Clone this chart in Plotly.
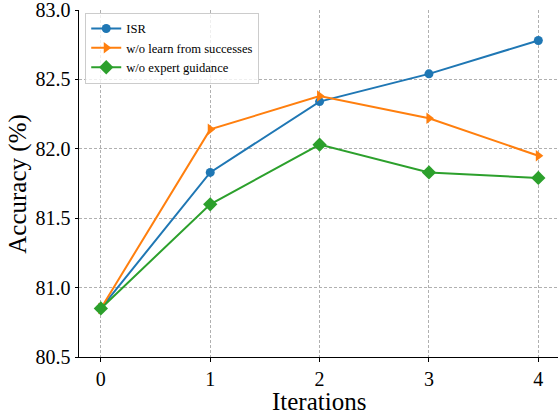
import plotly.graph_objects as go

iterations = [0, 1, 2, 3, 4]
isr = [80.85, 81.83, 82.34, 82.54, 82.78]
wo_learn = [80.85, 82.14, 82.38, 82.22, 81.95]
wo_expert = [80.85, 81.60, 82.03, 81.83, 81.79]
y_ticks = [80.5, 81.0, 81.5, 82.0, 82.5, 83.0]

FONT = "'Liberation Serif', 'Times New Roman', serif"

fig = go.Figure()
fig.add_trace(go.Scatter(x=iterations, y=isr, mode="lines+markers", name="ISR",
                         line=dict(color="#1f77b4", width=2),
                         marker=dict(symbol="circle", size=9, color="#1f77b4")))
fig.add_trace(go.Scatter(x=iterations, y=wo_learn, mode="lines+markers", name="w/o learn from successes",
                         line=dict(color="#ff7f0e", width=2),
                         marker=dict(symbol="triangle-right", size=10, color="#ff7f0e")))
fig.add_trace(go.Scatter(x=iterations, y=wo_expert, mode="lines+markers", name="w/o expert guidance",
                         line=dict(color="#2ca02c", width=2),
                         marker=dict(symbol="diamond", size=11, color="#2ca02c")))

fig.update_layout(
    width=559, height=414,
    margin=dict(l=79, r=1, t=10, b=57),
    paper_bgcolor="white", plot_bgcolor="white",
    font=dict(family=FONT, color="black"),
    showlegend=True,
    legend=dict(x=0.013, y=0.992, xanchor="left", yanchor="top",
                bgcolor="rgba(255,255,255,0.8)", bordercolor="#cccccc", borderwidth=1,
                font=dict(family=FONT, size=12.6, color="black"),
                tracegroupgap=0, itemwidth=30),
    xaxis=dict(range=[-0.2, 4.18], tickvals=iterations, ticktext=[str(i) for i in iterations],
               showline=True, linecolor="black", linewidth=1, mirror=False, automargin=False,
               ticks="outside", ticklen=3.5, tickcolor="black", ticklabeloverflow="allow",
               showgrid=True, gridcolor="#b0b0b0", griddash="3px,2px", gridwidth=1,
               zeroline=False, tickfont=dict(size=20, family=FONT, color="black")),
    yaxis=dict(range=[80.5, 83.0], tickvals=y_ticks, ticktext=[f"{v:.1f}" for v in y_ticks],
               showline=True, linecolor="black", linewidth=1, mirror=False, automargin=False,
               ticks="outside", ticklen=3.5, tickcolor="black", ticklabeloverflow="allow",
               showgrid=True, gridcolor="#b0b0b0", griddash="3px,2px", gridwidth=1,
               zeroline=False, tickfont=dict(size=20, family=FONT, color="black")),
    annotations=[
        dict(text="Iterations", xref="paper", yref="paper", x=0.5, y=-0.128,
             xanchor="center", yanchor="middle", showarrow=False,
             font=dict(size=25, family=FONT, color="black")),
        dict(text="Accuracy (%)", xref="paper", yref="paper", x=-0.129, y=0.5,
             xanchor="center", yanchor="middle", textangle=-90, showarrow=False,
             font=dict(size=25, family=FONT, color="black")),
    ],
)

fig.write_html("out.html", config={"displayModeBar": False},
               post_script="document.body.style.margin='0';document.body.style.padding='0';")
